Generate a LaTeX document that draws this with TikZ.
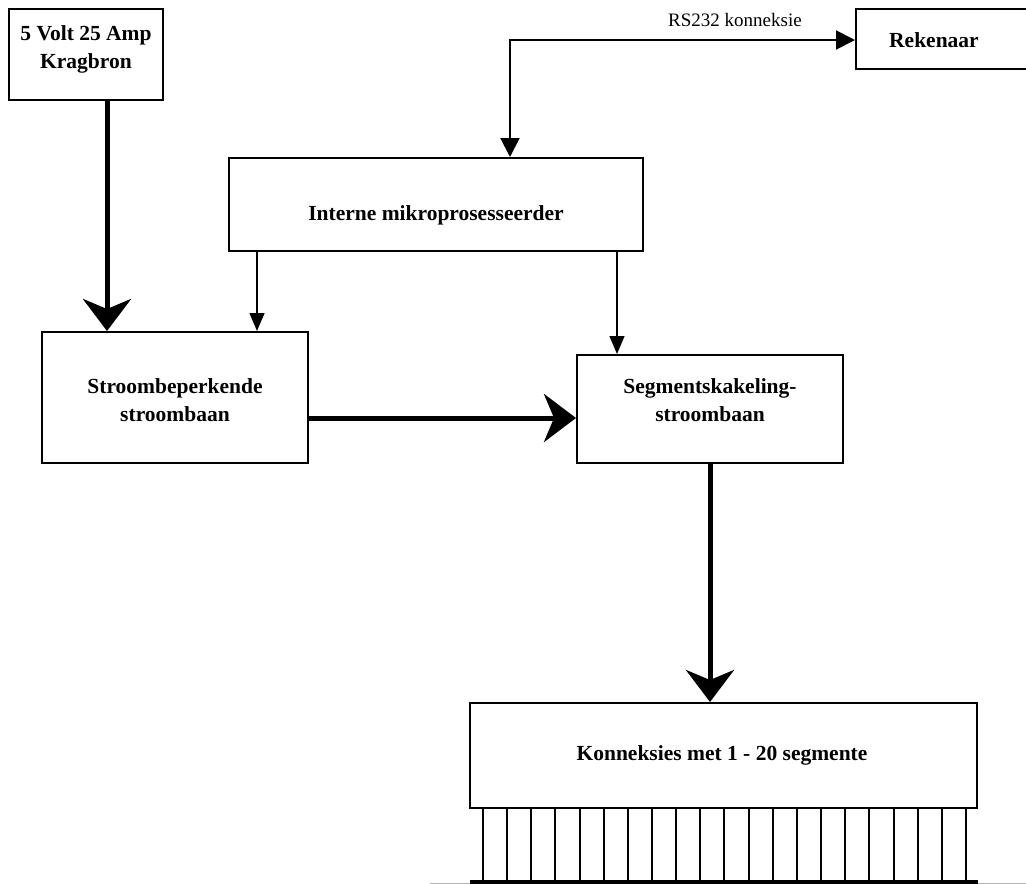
\documentclass[tikz,border=0pt]{standalone}
\usepackage{fontspec}
\setmainfont{Liberation Serif}
\usetikzlibrary{arrows.meta}
\begin{document}
\begin{tikzpicture}[x=1pt,y=-1pt,
  box/.style={draw=black,line width=2pt,rectangle,inner sep=0pt},
  lbl/.style={align=center,font=\fontsize{21.5}{28}\selectfont\bfseries,inner sep=0pt},
  power/.style={line width=5pt,-{Stealth[length=32pt,width=48pt,inset=10pt]}},
  ctrl/.style={line width=1.5pt,-{Triangle[length=18pt,width=15pt]}},
  serial/.style={line width=2pt,{Triangle[length=19pt,width=19pt]}-{Triangle[length=19pt,width=19pt]}}]
\useasboundingbox (0,0) rectangle (1026,884);

% blocks
\node[box,minimum width=154pt,minimum height=91pt] (A) at (86,54.5) {};
\node[lbl] (At) at (86,49) {5 Volt 25 Amp\\Kragbron};

\node[box,minimum width=180pt,minimum height=60pt] (R) at (946,39) {};
\node[lbl] (Rt) at (934,40) {Rekenaar};

\node[box,minimum width=414pt,minimum height=93pt] (M) at (436,204.5) {};
\node[lbl] (Mt) at (436,215) {Interne mikroprosesseerder};

\node[box,minimum width=266pt,minimum height=131pt] (S) at (175,397.5) {};
\node[lbl] (St) at (175,400) {Stroombeperkende\\stroombaan};

\node[box,minimum width=266pt,minimum height=108pt] (G) at (710,409) {};
\node[lbl] (Gt) at (710,400) {Segmentskakeling-\\stroombaan};

\node[box,minimum width=507pt,minimum height=105pt] (K) at (723.5,755.5) {};
\node[lbl] (Kt) at (722,755) {Konneksies met 1 - 20 segmente};

% power path
\draw[power] (A.south -| 107,0) -- (S.north -| 107,0);
\draw[power] (S.east |- 0,418) -- (G.west |- 0,418);
\draw[power] (G.south) -- (G.south |- K.north);

% control lines from the microprocessor
\draw[ctrl] (M.south -| 257,0) -- (S.north -| 257,0);
\draw[ctrl] (M.south -| 617,0) -- (G.north -| 617,0);

% serial link
\coordinate (rs) at (510,40);
\draw[serial] (M.north -| rs) -- (rs) -- (R.west |- rs);
\node[font=\fontsize{19}{22}\selectfont,inner sep=0pt] (rsl) at (735,20) {RS232 konneksie};

% segment connection comb, one lead per segment
\foreach \i in {0,...,20} {
  \pgfmathsetmacro{\px}{round(483+24.15*\i)}
  \coordinate (t\i) at (\px,808);
  \draw[line width=1.6pt] (t\i) -- ++(0,74);
}
\coordinate (bl) at (470,882);
\coordinate (br) at (978,882);
\draw[line width=0.6pt,black!30] (430,883) -- (1026,883);
\draw[line width=4pt] (bl) -- (br);
\end{tikzpicture}
\end{document}
